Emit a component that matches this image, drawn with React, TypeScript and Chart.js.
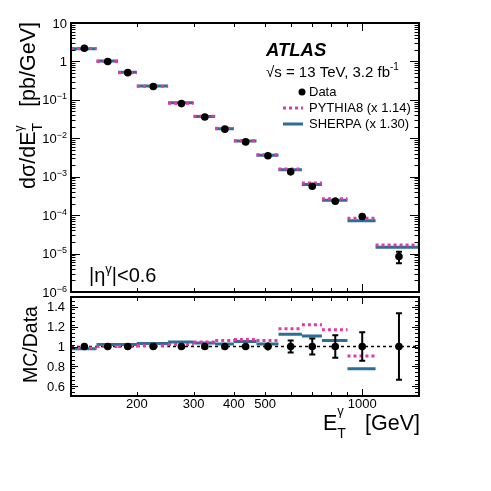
import React, { useEffect, useRef } from "react";
import { Chart, registerables } from "chart.js";
Chart.register(...registerables);

// ---------- data ----------
const binEdges = [125, 150, 175, 200, 250, 300, 350, 400, 470, 550, 650, 750, 900, 1100, 1500];
const binCenters = [137.5, 162.5, 187.5, 225, 275, 325, 375, 435, 510, 600, 700, 825, 1000, 1300];
const dataXsec = [2.2, 1.0, 0.51, 0.223, 0.08, 0.0357, 0.0173, 0.00805, 0.00352, 0.00134, 0.000565, 0.000229, 9.2e-5, 8.4e-6];
const dataRelErr = [0.01, 0.01, 0.01, 0.012, 0.012, 0.015, 0.018, 0.022, 0.04, 0.06, 0.08, 0.113, 0.143, 0.337];
const pythiaXsec = [2.17, 1.0, 0.51, 0.225, 0.0816, 0.0373, 0.0183, 0.00861, 0.00373, 0.00158, 0.000689, 0.000268, 8.3e-5, 1.67e-5];
const sherpaXsec = [2.15, 1.02, 0.52, 0.23, 0.0836, 0.0369, 0.0177, 0.00845, 0.00361, 0.00151, 0.000624, 0.000243, 7.1e-5, 1.45e-5];
const dataRatio = [1, 1, 1, 1, 1, 1, 1, 1, 1, 1, 1, 1, 1, 1];
const pythiaRatio = [0.985, 1.0, 1.0, 1.01, 1.02, 1.045, 1.06, 1.07, 1.06, 1.18, 1.22, 1.17, 0.905, 1.99];
const sherpaRatio = [0.977, 1.02, 1.02, 1.03, 1.045, 1.035, 1.025, 1.05, 1.025, 1.125, 1.105, 1.06, 0.775, 1.73];
const unityLine = [1, 1];
const xRange = [125, 1500];
const xTickLabels = [200, 300, 400, 500, 1000];
const xMinorTicks = [200, 300, 400, 500, 600, 700, 800, 900];
const xMajorTicks = [1000];
const yTopExponents = [1, 0, -1, -2, -3, -4, -5, -6];
const yRatioTickLabels = ["0.6", "0.8", "1", "1.2", "1.4"];
const yRatioRange = [0.5, 1.5];

const MAGENTA = "#e03aa9";
const BLUE = "#2b6e96";
const FAM = '"Liberation Sans", Arial, Helvetica, sans-serif';

type Part = { t: string; size: number; dy?: number; bold?: boolean; italic?: boolean; stack?: boolean };
const fontOf = (p: Part) => `${p.italic ? "italic " : ""}${p.bold ? "bold " : ""}${p.size}px ${FAM}`;

function measureParts(ctx: CanvasRenderingContext2D, parts: Part[]) {
  let w = 0;
  let pending = 0;
  for (const p of parts) {
    ctx.font = fontOf(p);
    const mw = ctx.measureText(p.t).width;
    if (p.stack) pending = Math.max(pending, mw);
    else {
      w += Math.max(mw, pending);
      pending = 0;
    }
  }
  return w + pending;
}

function drawParts(ctx: CanvasRenderingContext2D, parts: Part[], x: number, y: number, align: "left" | "right" | "center" = "left", baseline: CanvasTextBaseline = "alphabetic") {
  const w = measureParts(ctx, parts);
  let cx = align === "right" ? x - w : align === "center" ? x - w / 2 : x;
  let pending = 0;
  ctx.textAlign = "left";
  ctx.textBaseline = baseline;
  for (const p of parts) {
    ctx.font = fontOf(p);
    ctx.fillText(p.t, cx, y + (p.dy || 0));
    const mw = ctx.measureText(p.t).width;
    if (p.stack) pending = Math.max(pending, mw);
    else {
      cx += Math.max(mw, pending);
      pending = 0;
    }
  }
}

function histPoints(values: number[]) {
  const pts: { x: number; y: number | null }[] = [];
  values.forEach((v, i) => {
    pts.push({ x: binEdges[i], y: v });
    pts.push({ x: binEdges[i + 1], y: v });
    pts.push({ x: binEdges[i + 1], y: null });
  });
  return pts;
}

function drawErrorBars(chart: any, values: number[], relErr: number[], absolute: boolean) {
  const { ctx } = chart;
  const xs = chart.scales.x;
  const ys = chart.scales.y;
  const a = chart.chartArea;
  ctx.save();
  ctx.beginPath();
  ctx.rect(a.left, a.top, a.right - a.left, a.bottom - a.top);
  ctx.clip();
  ctx.strokeStyle = "#000";
  ctx.lineWidth = 2;
  values.forEach((v, i) => {
    const e = absolute ? relErr[i] : v * relErr[i];
    const px = xs.getPixelForValue(binCenters[i]);
    const y1 = ys.getPixelForValue(v + e);
    const y2 = ys.getPixelForValue(v - e);
    ctx.beginPath();
    ctx.moveTo(px, y1);
    ctx.lineTo(px, y2);
    ctx.stroke();
    if (Math.abs(y2 - y1) / 2 > 4.4) {
      ctx.beginPath();
      ctx.moveTo(px - 3, y1);
      ctx.lineTo(px + 3, y1);
      ctx.moveTo(px - 3, y2);
      ctx.lineTo(px + 3, y2);
      ctx.stroke();
    }
  });
  ctx.restore();
}

function drawFrameTicks(chart: any, yMajor: number[], yMinor: number[], yMajLen: number, yMinLen: number, xMajLen: number, xMinLen: number) {
  const { ctx } = chart;
  const a = chart.chartArea;
  const xs = chart.scales.x;
  const ys = chart.scales.y;
  ctx.save();
  ctx.strokeStyle = "#000";
  ctx.lineWidth = 1;
  ctx.beginPath();
  const xTick = (v: number, len: number) => {
    const px = Math.round(xs.getPixelForValue(v)) + 0.5;
    ctx.moveTo(px, a.bottom);
    ctx.lineTo(px, a.bottom - len);
    ctx.moveTo(px, a.top);
    ctx.lineTo(px, a.top + len);
  };
  const yTick = (v: number, len: number) => {
    const py = Math.round(ys.getPixelForValue(v)) + 0.5;
    ctx.moveTo(a.left, py);
    ctx.lineTo(a.left + len, py);
    ctx.moveTo(a.right, py);
    ctx.lineTo(a.right - len, py);
  };
  xMinorTicks.forEach((v) => xTick(v, xMinLen));
  xMajorTicks.forEach((v) => xTick(v, xMajLen));
  yMinor.forEach((v) => yTick(v, yMinLen));
  yMajor.forEach((v) => yTick(v, yMajLen));
  ctx.stroke();
  ctx.lineWidth = 2;
  ctx.strokeRect(a.left, a.top, a.right - a.left, a.bottom - a.top);
  ctx.restore();
}

const topPlugin = {
  id: "topDecor",
  afterDatasetsDraw(chart: any) {
    drawErrorBars(chart, dataXsec, dataRelErr, false);
  },
  afterDraw(chart: any) {
    const { ctx } = chart;
    const ys = chart.scales.y;
    const a = chart.chartArea;
    const yMajor = yTopExponents.map((e) => Math.pow(10, e));
    const yMinor: number[] = [];
    yTopExponents.forEach((e) => {
      for (let m = 2; m <= 9; m++) {
        const v = m * Math.pow(10, e);
        if (v <= 10) yMinor.push(v);
      }
    });
    drawFrameTicks(chart, yMajor, yMinor, 9, 4.5, 8, 4);
    ctx.save();
    ctx.fillStyle = "#000";
    // y tick labels
    yTopExponents.forEach((e) => {
      const py = ys.getPixelForValue(Math.pow(10, e));
      const parts: Part[] =
        e === 1 ? [{ t: "10", size: 13 }] : e === 0 ? [{ t: "1", size: 13 }] : [{ t: "10", size: 13 }, { t: "\u2212" + String(-e), size: 9, dy: -5 }];
      drawParts(ctx, parts, a.left - 4, py + 4.5, "right");
    });
    // y title (rotated)
    ctx.save();
    ctx.translate(35, 189);
    ctx.rotate(-Math.PI / 2);
    drawParts(ctx, [{ t: "d\u03c3/dE", size: 21.5 }, { t: "\u03b3", size: 12, dy: -12, stack: true }, { t: "T", size: 14, dy: 7 }], 0, 0, "left");
    drawParts(ctx, [{ t: "[pb/GeV]", size: 21.5 }], 189 - 22, 0, "right");
    ctx.restore();
    // ATLAS label
    drawParts(ctx, [{ t: "ATLAS", size: 18.5, bold: true, italic: true }], 266, 56, "left");
    drawParts(ctx, [{ t: "\u221as = 13 TeV, 3.2 fb", size: 15 }, { t: "-1", size: 10, dy: -7 }], 266, 77, "left");
    // legend
    ctx.beginPath();
    ctx.arc(302, 92, 3.5, 0, Math.PI * 2);
    ctx.fill();
    drawParts(ctx, [{ t: "Data", size: 13 }], 309, 92, "left", "middle");
    ctx.lineWidth = 3;
    ctx.strokeStyle = MAGENTA;
    ctx.setLineDash([3, 3]);
    ctx.beginPath();
    ctx.moveTo(283, 108);
    ctx.lineTo(303, 108);
    ctx.stroke();
    ctx.setLineDash([]);
    drawParts(ctx, [{ t: "PYTHIA8 (x 1.14)", size: 13 }], 309, 108, "left", "middle");
    ctx.strokeStyle = BLUE;
    ctx.beginPath();
    ctx.moveTo(283, 124);
    ctx.lineTo(303, 124);
    ctx.stroke();
    drawParts(ctx, [{ t: "SHERPA (x 1.30)", size: 13 }], 309, 124, "left", "middle");
    // eta label
    drawParts(ctx, [{ t: "|\u03b7", size: 20 }, { t: "\u03b3", size: 13, dy: -9 }, { t: "|<0.6", size: 20 }], 89, 282, "left");
    ctx.restore();
  },
};

const bottomPlugin = {
  id: "bottomDecor",
  afterDatasetsDraw(chart: any) {
    drawErrorBars(chart, dataRatio, dataRelErr.map((r, i) => r * dataRatio[i]), true);
  },
  afterDraw(chart: any) {
    const { ctx } = chart;
    const ys = chart.scales.y;
    const xs = chart.scales.x;
    const a = chart.chartArea;
    const yMajor = yRatioTickLabels.map((s) => parseFloat(s));
    const yMinor: number[] = [];
    for (let k = 1; k < 25; k++) yMinor.push(0.5 + k * 0.04);
    drawFrameTicks(chart, yMajor, yMinor, 7, 4, 7, 4);
    ctx.save();
    ctx.fillStyle = "#000";
    yRatioTickLabels.forEach((s) => {
      const py = ys.getPixelForValue(parseFloat(s));
      drawParts(ctx, [{ t: s, size: 13 }], a.left - 6, py + 4.5, "right");
    });
    xTickLabels.forEach((v) => {
      const px = xs.getPixelForValue(v);
      drawParts(ctx, [{ t: String(v), size: 13 }], px, 408, "center");
    });
    // y title
    ctx.save();
    ctx.translate(37, a.top + (a.bottom - a.top) / 2 - 2);
    ctx.rotate(-Math.PI / 2);
    drawParts(ctx, [{ t: "MC/Data", size: 19.5 }], 0, 0, "center");
    ctx.restore();
    // x title
    drawParts(ctx, [{ t: "E", size: 21.5 }, { t: "\u03b3", size: 13, dy: -15, stack: true }, { t: "T", size: 14, dy: 8 }], 323, 430, "left");
    drawParts(ctx, [{ t: "[GeV]", size: 21.5 }], 420, 430, "right");
    ctx.restore();
  },
};

function makeTop(canvas: HTMLCanvasElement) {
  return new Chart(canvas, {
    type: "line",
    data: {
      datasets: [
        {
          label: "Data",
          data: binCenters.map((x, i) => ({ x, y: dataXsec[i] })),
          showLine: false,
          pointRadius: 3.8,
          pointBackgroundColor: "#000",
          pointBorderColor: "#000",
          pointBorderWidth: 0,
          order: 0,
        },
        {
          label: "PYTHIA8",
          data: histPoints(pythiaXsec),
          borderColor: MAGENTA,
          borderWidth: 3,
          borderDash: [3, 3],
          pointRadius: 0,
          spanGaps: false,
          order: 1,
        },
        {
          label: "SHERPA",
          data: histPoints(sherpaXsec),
          borderColor: BLUE,
          borderWidth: 3,
          pointRadius: 0,
          spanGaps: false,
          order: 2,
        },
      ],
    },
    options: {
      responsive: false,
      animation: false,
      layout: { padding: { left: 71, right: 72, top: 23, bottom: 199 } },
      plugins: { legend: { display: false }, tooltip: { enabled: false }, title: { display: false } },
      scales: {
        x: { type: "logarithmic", min: xRange[0], max: xRange[1], display: false },
        y: { type: "logarithmic", min: 1e-6, max: 10, display: false },
      },
    },
    plugins: [topPlugin],
  } as any);
}

function makeBottom(canvas: HTMLCanvasElement) {
  return new Chart(canvas, {
    type: "line",
    data: {
      datasets: [
        {
          label: "Data",
          data: binCenters.map((x, i) => ({ x, y: dataRatio[i] })),
          showLine: false,
          pointRadius: 3.8,
          pointBackgroundColor: "#000",
          pointBorderColor: "#000",
          pointBorderWidth: 0,
          order: 0,
        },
        {
          label: "PYTHIA8",
          data: histPoints(pythiaRatio),
          borderColor: MAGENTA,
          borderWidth: 3,
          borderDash: [3, 3],
          pointRadius: 0,
          spanGaps: false,
          order: 1,
        },
        {
          label: "SHERPA",
          data: histPoints(sherpaRatio),
          borderColor: BLUE,
          borderWidth: 3,
          pointRadius: 0,
          spanGaps: false,
          order: 2,
        },
        {
          label: "unity",
          data: xRange.map((x, i) => ({ x, y: unityLine[i] })),
          borderColor: "#000",
          borderWidth: 1.5,
          borderDash: [3, 3],
          pointRadius: 0,
          order: 3,
        },
      ],
    },
    options: {
      responsive: false,
      animation: false,
      layout: { padding: { left: 71, right: 72, top: 297, bottom: 95 } },
      plugins: { legend: { display: false }, tooltip: { enabled: false }, title: { display: false } },
      scales: {
        x: { type: "logarithmic", min: xRange[0], max: xRange[1], display: false },
        y: { type: "linear", min: yRatioRange[0], max: yRatioRange[1], display: false },
      },
    },
    plugins: [bottomPlugin],
  } as any);
}

export default function App() {
  const topRef = useRef<HTMLCanvasElement>(null);
  const botRef = useRef<HTMLCanvasElement>(null);
  useEffect(() => {
    document.body.style.margin = "0";
    const t = makeTop(topRef.current!);
    const b = makeBottom(botRef.current!);
    return () => {
      t.destroy();
      b.destroy();
    };
  }, []);
  const st: React.CSSProperties = { position: "absolute", left: 0, top: 0, width: 491, height: 491 };
  return (
    <div style={{ position: "relative", width: 491, height: 491, background: "#fff" }}>
      <canvas ref={botRef} width={491} height={491} style={st} />
      <canvas ref={topRef} width={491} height={491} style={{ ...st, pointerEvents: "none" }} />
    </div>
  );
}
